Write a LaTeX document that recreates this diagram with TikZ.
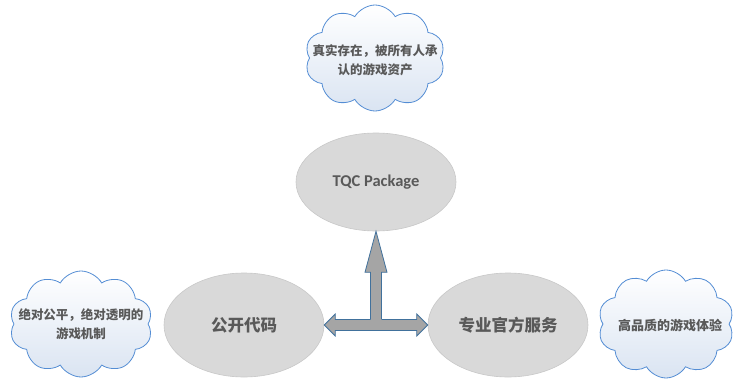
\documentclass[tikz,border=0pt]{standalone}
\usepackage{fontspec}
\setmainfont{Carlito}
\newfontfamily\cjk{Noto Sans CJK SC}
\usepackage{tikz}
\usetikzlibrary{calc,shapes.geometric,shapes.symbols}

\definecolor{ovalfill}{RGB}{217,217,217}
\definecolor{ovalline}{RGB}{200,200,200}
\definecolor{txtgray}{RGB}{89,89,89}
\definecolor{arrowfill}{RGB}{165,165,165}
\definecolor{arrowline}{RGB}{65,113,156}
\definecolor{cloudline}{RGB}{84,141,212}
\definecolor{cloudfill}{RGB}{218,228,242}

\begin{document}
\begin{tikzpicture}[x=1pt,y=1pt,yscale=-1,
  oval/.style={ellipse,draw=ovalline,fill=ovalfill,line width=0.6pt,minimum width=160pt,minimum height=104pt,inner sep=0pt,text=txtgray,font=\fontsize{16.5}{18}\selectfont\bfseries},
  idea/.style={cloud,cloud puffs=10,cloud puff arc=120,draw=cloudline,line width=0.8pt,top color=white,bottom color=cloudfill,inner sep=0pt},
  ideatext/.style={align=center,text=txtgray,inner sep=0pt,font=\cjk\fontsize{12.5}{19}\selectfont\bfseries},
  blockarrow/.style={draw=arrowline,line width=0.8pt,line join=miter}]
\path[use as bounding box] (0,0) rectangle (734,380);

% Ovals
\node[oval,minimum height=98pt] (pkg) at (376,182) {TQC Package};
\node[oval] (code) at (244,325) {\cjk 公开代码};
\node[oval] (service) at (508,325) {\cjk 专业官方服务};

% Clouds
\node[idea,minimum width=140pt,minimum height=106pt] (asset) at (375,58) {};
\node[ideatext] (assettext) at (375,60) {真实存在，被所有人承\\认的游戏资产};
\node[idea,minimum width=143pt,minimum height=106pt] (fair) at (81,324) {};
\node[ideatext] (fairtext) at (fair.center) {绝对公平，绝对透明的\\游戏机制};
\node[idea,minimum width=136pt,minimum height=108pt] (exp) at (666,324) {};
\node[ideatext,font=\cjk\fontsize{13}{19}\selectfont\bfseries] (exptext) at (670,325) {高品质的游戏体验};

% Double arrow between the two lower ovals
\coordinate (mid) at ($(code.east)!.5!(service.west)$);
\draw[blockarrow,fill=arrowfill] (code.east) -- ++(11,-11) -- ++(0,5.5) -- ($(service.west)+(-11,-5.5)$) -- ++(0,-5.5) -- (service.west) -- ++(-11,11) -- ++(0,-5.5) -- ($(code.east)+(11,5.5)$) -- ++(0,5.5) -- cycle;

% Arrow up to the package
\fill[arrowfill] ($(mid)+(-5.5,-4)$) -- ($(pkg.south)+(-5.5,41)$) -- ++(-5.5,0) -- (pkg.south) -- ++(11,41) -- ++(-5.5,0) -- ($(mid)+(5.5,-4)$) -- cycle;
\draw[blockarrow] ($(mid)+(-5.5,-5.9)$) -- ($(pkg.south)+(-5.5,41)$) -- ++(-5.5,0) -- (pkg.south) -- ++(11,41) -- ++(-5.5,0) -- ($(mid)+(5.5,-5.9)$);

\end{tikzpicture}
\end{document}
